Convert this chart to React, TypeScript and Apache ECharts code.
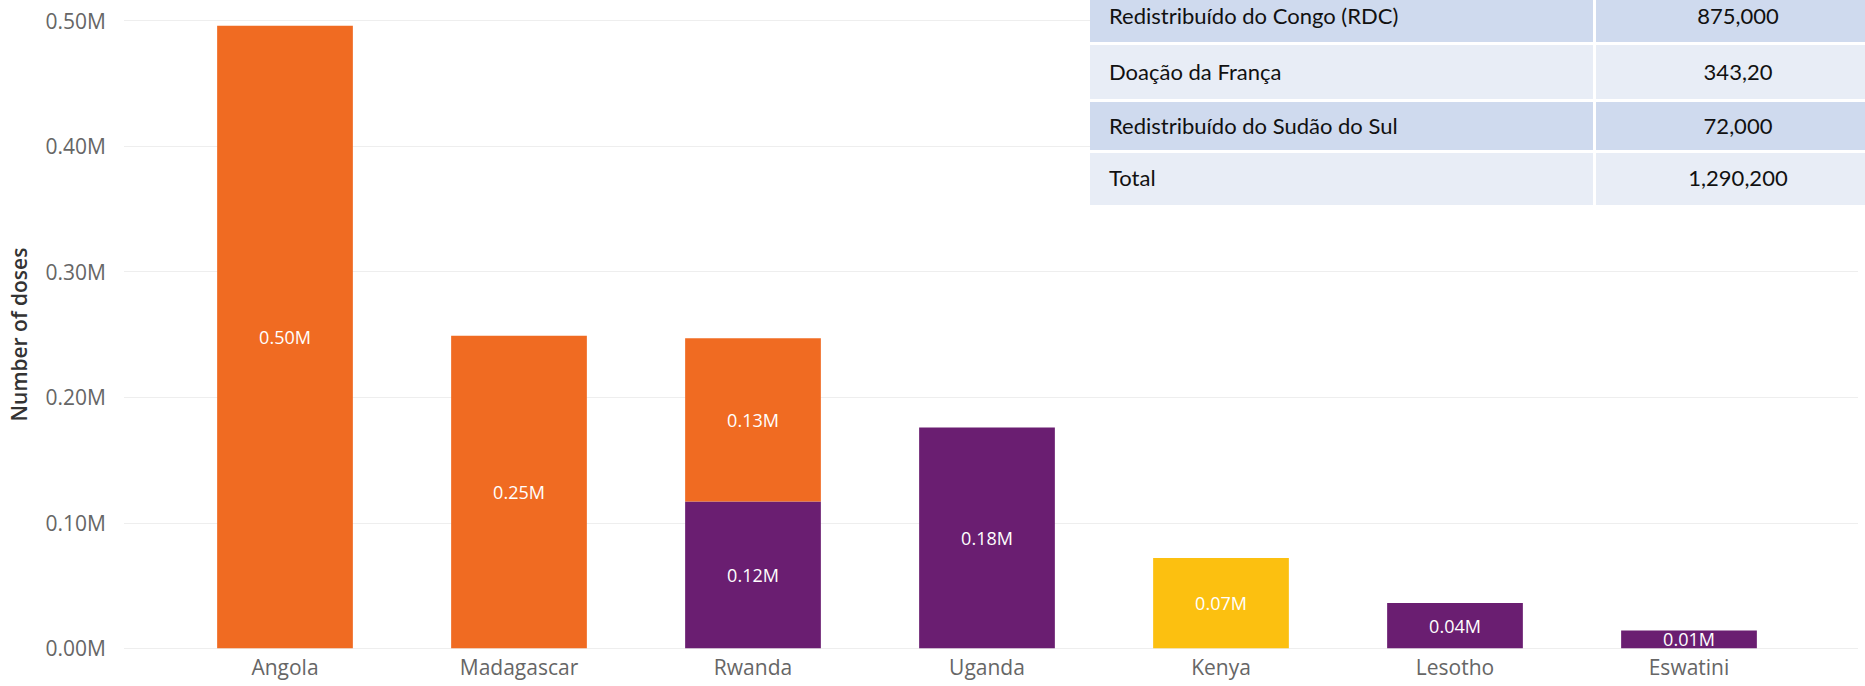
import React, { useEffect, useRef } from "react";
import * as echarts from "echarts";

// ---- Data ----
const categories = ["Angola", "Madagascar", "Rwanda", "Uganda", "Kenya", "Lesotho", "Eswatini"];
const franceDoses = [null, null, 117000, 176000, null, 36000, 14200];
const congoDoses = [496000, 249000, 130000, null, null, null, null];
const southSudanDoses = [null, null, null, null, 72000, null, null];

const yMin = 0;
const yMax = 500000;
const yInterval = 100000;

const tableLabels = [
  "Redistribuído do Congo (RDC)",
  "Doação da França",
  "Redistribuído do Sudão do Sul",
  "Total",
];
const tableValues = ["875,000", "343,20", "72,000", "1,290,200"];

// ---- Styles ----
const ORANGE = "#F06B22";
const PURPLE = "#6A1E71";
const YELLOW = "#FCC010";
const FONT = "'Open Sans', 'Noto Sans', sans-serif";
const TABLE_FONT = "Lato, 'Open Sans', sans-serif";

const fmtM = (v: number) => (Math.round(v / 1e4) / 100).toFixed(2) + "M";

const rowGeom = [
  { y: -10, h: 52, c: 15 },
  { y: 45, h: 54, c: 71 },
  { y: 102, h: 48, c: 125 },
  { y: 153, h: 52, c: 177 },
];
const rowColors = ["#CFDAEE", "#E8EDF6", "#CFDAEE", "#E8EDF6"];

export default function App() {
  const ref = useRef<HTMLDivElement>(null);

  useEffect(() => {
    if (!ref.current) return;
    const chart = echarts.init(ref.current, undefined, { renderer: "svg" });

    const label = {
      show: true,
      position: "inside",
      color: "#ffffff",
      fontSize: 18,
      fontFamily: FONT,
      formatter: (p: any) => fmtM(p.value),
    };

    const tableGraphics: any[] = [
      {
        type: "rect",
        shape: { x: 1090, y: 0, width: 775, height: 205 },
        style: { fill: "#ffffff" },
        z: 100,
      },
    ];
    tableLabels.forEach((t, i) => {
      const g = rowGeom[i];
      tableGraphics.push({
        type: "rect",
        shape: { x: 1090, y: g.y, width: 503, height: g.h },
        style: { fill: rowColors[i] },
        z: 101,
      });
      tableGraphics.push({
        type: "rect",
        shape: { x: 1596, y: g.y, width: 269, height: g.h },
        style: { fill: rowColors[i] },
        z: 101,
      });
      tableGraphics.push({
        type: "text",
        x: 1109,
        y: g.c,
        style: {
          text: t,
          fontSize: 22,
          fontFamily: TABLE_FONT,
          fill: "#111111",
          align: "left",
          verticalAlign: "middle",
        },
        z: 102,
      });
      tableGraphics.push({
        type: "text",
        x: 1738,
        y: g.c,
        style: {
          text: tableValues[i],
          fontSize: 22,
          fontFamily: TABLE_FONT,
          fill: "#111111",
          align: "center",
          verticalAlign: "middle",
        },
        z: 102,
      });
    });

    chart.setOption({
      animation: false,
      backgroundColor: "#ffffff",
      grid: [
        { left: 123, right: 7, top: 20.7, bottom: 37.7 },
        { left: 168, right: 59, top: 20.7, bottom: 37.7 },
      ],
      xAxis: [
        { type: "value", gridIndex: 0, min: 0, max: 1, show: false },
        {
          type: "category",
          gridIndex: 1,
          data: categories,
          axisLine: { show: false },
          axisTick: { show: false },
          axisLabel: { color: "#666666", fontSize: 21, fontFamily: FONT, margin: 8 },
        },
      ],
      yAxis: [
        {
          type: "value",
          gridIndex: 0,
          min: yMin,
          max: yMax,
          interval: yInterval,
          name: "Number of doses",
          nameLocation: "middle",
          nameGap: 95,
          nameTextStyle: { color: "#333333", fontSize: 21, fontWeight: 600, fontFamily: FONT },
          axisLine: { show: false },
          axisTick: { show: false },
          axisLabel: {
            color: "#666666",
            fontSize: 21,
            fontFamily: FONT,
            margin: 18,
            formatter: (v: number) => fmtM(v),
          },
          splitLine: { show: true, lineStyle: { color: "#EEEEEE", width: 1 } },
        },
        {
          type: "value",
          gridIndex: 1,
          min: yMin,
          max: yMax,
          interval: yInterval,
          show: false,
          splitLine: { show: false },
        },
      ],
      series: [
        {
          name: "Doação da França",
          type: "bar",
          stack: "doses",
          xAxisIndex: 1,
          yAxisIndex: 1,
          barWidth: "58%",
          data: franceDoses,
          itemStyle: { color: PURPLE },
          label,
        },
        {
          name: "Redistribuído do Congo (RDC)",
          type: "bar",
          stack: "doses",
          xAxisIndex: 1,
          yAxisIndex: 1,
          barWidth: "58%",
          data: congoDoses,
          itemStyle: { color: ORANGE },
          label,
        },
        {
          name: "Redistribuído do Sudão do Sul",
          type: "bar",
          stack: "doses",
          xAxisIndex: 1,
          yAxisIndex: 1,
          barWidth: "58%",
          data: southSudanDoses,
          itemStyle: { color: YELLOW },
          label,
        },
      ],
      graphic: tableGraphics,
    });

    return () => chart.dispose();
  }, []);

  return (
    <div
      ref={ref}
      style={{ position: "fixed", left: 0, top: 0, width: 1865, height: 686 }}
    />
  );
}
